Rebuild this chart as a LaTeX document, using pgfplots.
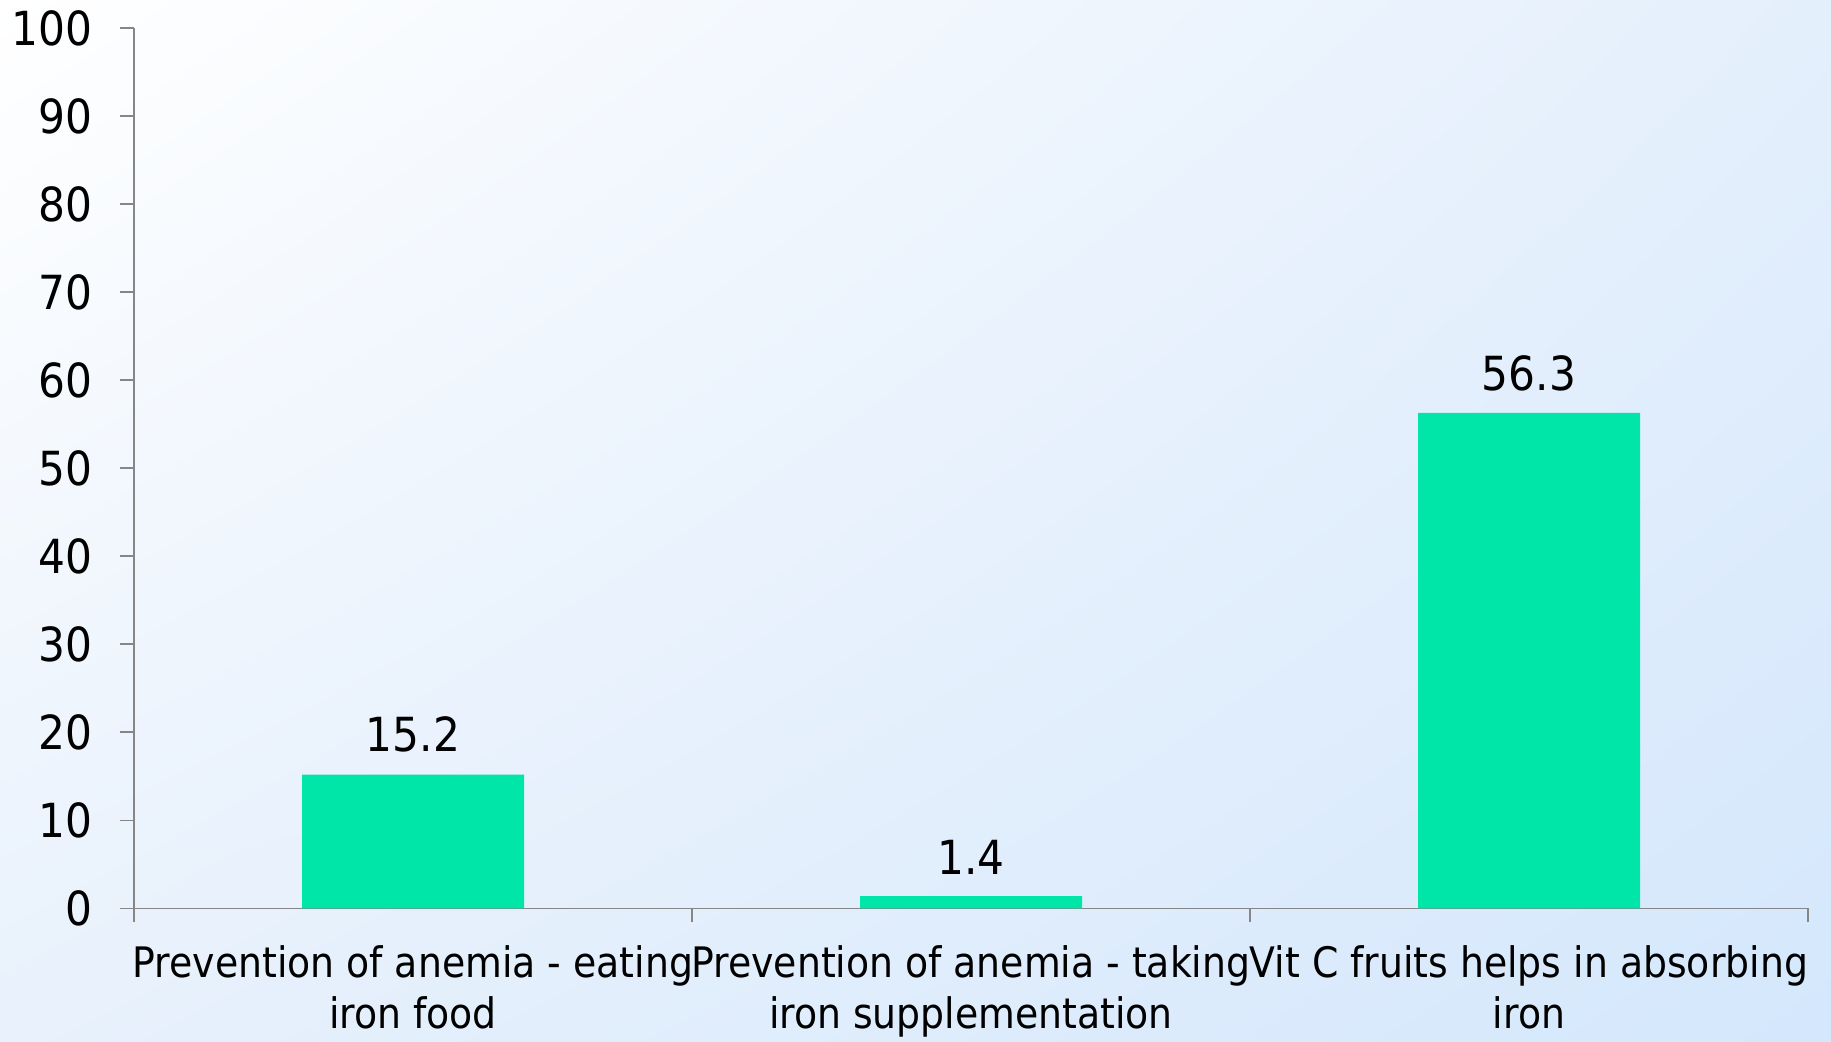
\documentclass[border=0pt]{standalone}
\usepackage{pgfplots}
\pgfplotsset{compat=1.18}
\usetikzlibrary{shadings}
\usepackage{fontspec}
\setmainfont{DejaVu Sans Condensed}
\definecolor{barc}{HTML}{00E5A8}
\definecolor{axc}{HTML}{868686}
\definecolor{bgTL}{HTML}{FFFFFF}
\definecolor{bgTR}{HTML}{E4EFFC}
\definecolor{bgBL}{HTML}{E8F1FC}
\definecolor{bgBR}{HTML}{D4E7FC}
\begin{document}
\begin{tikzpicture}
\shade[upper left=bgTL, upper right=bgTR, lower left=bgBL, lower right=bgBR] (0,0) rectangle (915.5pt,521pt);
\useasboundingbox (0,0) rectangle (915.5pt,521pt);
\begin{axis}[
  at={(67pt,66.75pt)}, anchor=south west,
  scale only axis, width=837pt, height=440.25pt,
  xmin=-0.5, xmax=2.5, ymin=0, ymax=100,
  axis x line=bottom, axis y line=left,
  axis line style={-, draw=axc, line width=0.9pt},
  ytick={0,10,...,100},
  xtick={0,1,2},
  xticklabels={Prevention of anemia - eating\\iron food, Prevention of anemia - taking\\iron supplementation, Vit C fruits helps in absorbing\\iron},
  minor xtick={-0.5,0.5,1.5,2.5},
  major x tick style={draw=none},
  tick style={draw=axc, line width=0.9pt},
  major tick length=7pt, minor tick length=7pt,
  tick align=outside,
  xticklabel style={align=center, font=\fontsize{21}{25.7}\selectfont, yshift=-8pt},
  yticklabel style={font=\fontsize{23.5}{26}\selectfont, xshift=-10.5pt},
  /pgf/number format/assume math mode=true,
  ybar, bar width=111pt,
  nodes near coords,
  every node near coord/.append style={font=\fontsize{23.5}{26}\selectfont, text=black, yshift=7.5pt},
  /pgf/number format/.cd, fixed, precision=1,
]
\addplot[fill=barc, draw=none] coordinates {(0,15.2) (1,1.4) (2,56.3)};
\end{axis}
\end{tikzpicture}
\end{document}
